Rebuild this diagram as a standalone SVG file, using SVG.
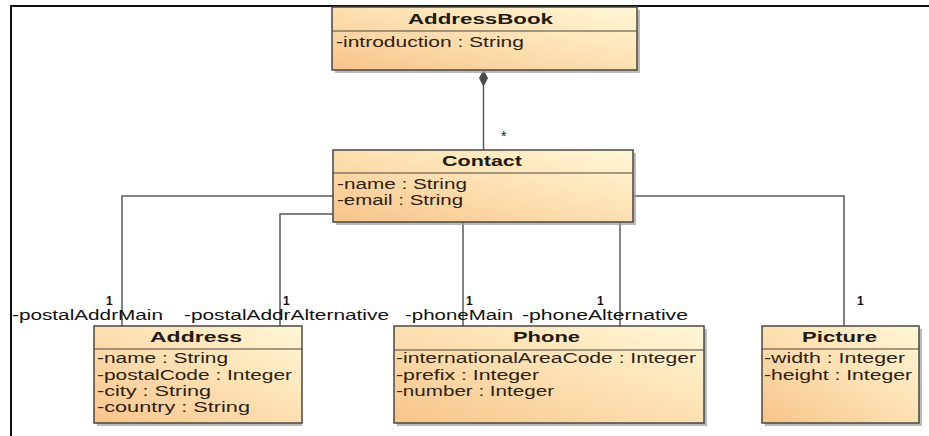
<svg xmlns="http://www.w3.org/2000/svg" width="929" height="436" viewBox="0 0 929 436">
<defs>
<linearGradient id="fillG" x1="0" y1="1" x2="1" y2="0">
<stop offset="0" stop-color="#f8c48a"/>
<stop offset="0.55" stop-color="#fde2b4"/>
<stop offset="1" stop-color="#fff7d6"/>
</linearGradient>
<style>
.box{fill:url(#fillG);stroke:#4a4740;stroke-width:1.5}
.shadow{fill:#9c9c9c;opacity:0.7}
.sep{stroke:#4a4740;stroke-width:1.2}
.title{font-family:"Liberation Sans",Arial,sans-serif;font-size:14px;font-weight:bold;fill:#1e1a14;text-anchor:start}
.attr{font-family:"Liberation Sans",Arial,sans-serif;font-size:14px;fill:#2a2218}
.lbl{font-family:"Liberation Sans",Arial,sans-serif;font-size:14px;fill:#111}
.mult{font-family:"Liberation Sans",Arial,sans-serif;font-size:12px;font-weight:bold;fill:#111}
.conn{fill:none;stroke:#5a5a5a;stroke-width:1.5}
.frame{fill:none;stroke:#111;stroke-width:2}
</style>
</defs>
<rect x="0" y="0" width="929" height="436" fill="#ffffff"/>
<path class="frame" d="M11,436 V6 H929"/>

<g id="connectors">
<path class="conn" d="M483.5,86 V150"/>
<polygon points="483.5,71 487.5,78 483.5,86 479.5,78" fill="#4a4a4a" stroke="#4a4a4a" stroke-width="1"/>
<text class="lbl" x="501" y="141">*</text>
<path class="conn" d="M333,196 H122 V326"/>
<path class="conn" d="M333,214 H280 V326"/>
<path class="conn" d="M463,222 V326"/>
<path class="conn" d="M620,222 V326"/>
<path class="conn" d="M633,196 H844 V326"/>
<text class="mult" x="106" y="305">1</text>
<text class="lbl" x="12" y="320" textLength="151" lengthAdjust="spacingAndGlyphs">-postalAddrMain</text>
<text class="mult" x="283" y="305">1</text>
<text class="lbl" x="184" y="320" textLength="205" lengthAdjust="spacingAndGlyphs">-postalAddrAlternative</text>
<text class="mult" x="466" y="305">1</text>
<text class="lbl" x="405" y="320" textLength="108" lengthAdjust="spacingAndGlyphs">-phoneMain</text>
<text class="mult" x="597" y="305">1</text>
<text class="lbl" x="522" y="320" textLength="166" lengthAdjust="spacingAndGlyphs">-phoneAlternative</text>
<text class="mult" x="857" y="305">1</text>
</g>

<g id="AddressBook">
<rect class="shadow" x="335" y="10" width="305" height="63"/>
<rect class="box" x="332" y="7" width="305" height="63"/>
<line class="sep" x1="332" y1="31" x2="637" y2="31"/>
<text class="title" x="408" y="24" textLength="145" lengthAdjust="spacingAndGlyphs">AddressBook</text>
<text class="attr" x="336" y="47" textLength="188" lengthAdjust="spacingAndGlyphs">-introduction : String</text>
</g>

<g id="Contact">
<rect class="shadow" x="336" y="153" width="300" height="72"/>
<rect class="box" x="333" y="150" width="300" height="72"/>
<line class="sep" x1="333" y1="173" x2="633" y2="173"/>
<text class="title" x="442" y="166" textLength="80" lengthAdjust="spacingAndGlyphs">Contact</text>
<text class="attr" x="337" y="189" textLength="130" lengthAdjust="spacingAndGlyphs">-name : String</text>
<text class="attr" x="337" y="205" textLength="126" lengthAdjust="spacingAndGlyphs">-email : String</text>
</g>

<g id="Address">
<rect class="shadow" x="97" y="329" width="205" height="97"/>
<rect class="box" x="94" y="326" width="208" height="97"/>
<line class="sep" x1="94" y1="349" x2="302" y2="349"/>
<text class="title" x="150" y="342" textLength="92" lengthAdjust="spacingAndGlyphs">Address</text>
<text class="attr" x="97" y="363" textLength="131" lengthAdjust="spacingAndGlyphs">-name : String</text>
<text class="attr" x="97" y="380" textLength="195" lengthAdjust="spacingAndGlyphs">-postalCode : Integer</text>
<text class="attr" x="97" y="396" textLength="114" lengthAdjust="spacingAndGlyphs">-city : String</text>
<text class="attr" x="97" y="412" textLength="153" lengthAdjust="spacingAndGlyphs">-country : String</text>
</g>

<g id="Phone">
<rect class="shadow" x="397" y="329" width="310" height="97"/>
<rect class="box" x="394" y="326" width="310" height="97"/>
<line class="sep" x1="394" y1="350" x2="704" y2="350"/>
<text class="title" x="513" y="342" textLength="67" lengthAdjust="spacingAndGlyphs">Phone</text>
<text class="attr" x="396" y="363" textLength="300" lengthAdjust="spacingAndGlyphs">-internationalAreaCode : Integer</text>
<text class="attr" x="396" y="380" textLength="143" lengthAdjust="spacingAndGlyphs">-prefix : Integer</text>
<text class="attr" x="396" y="396" textLength="158" lengthAdjust="spacingAndGlyphs">-number : Integer</text>
</g>

<g id="Picture">
<rect class="shadow" x="765" y="329" width="157" height="97"/>
<rect class="box" x="762" y="326" width="157" height="97"/>
<line class="sep" x1="762" y1="349" x2="919" y2="349"/>
<text class="title" x="802" y="342" textLength="75" lengthAdjust="spacingAndGlyphs">Picture</text>
<text class="attr" x="764" y="363" textLength="141" lengthAdjust="spacingAndGlyphs">-width : Integer</text>
<text class="attr" x="764" y="380" textLength="148" lengthAdjust="spacingAndGlyphs">-height : Integer</text>
</g>
</svg>
